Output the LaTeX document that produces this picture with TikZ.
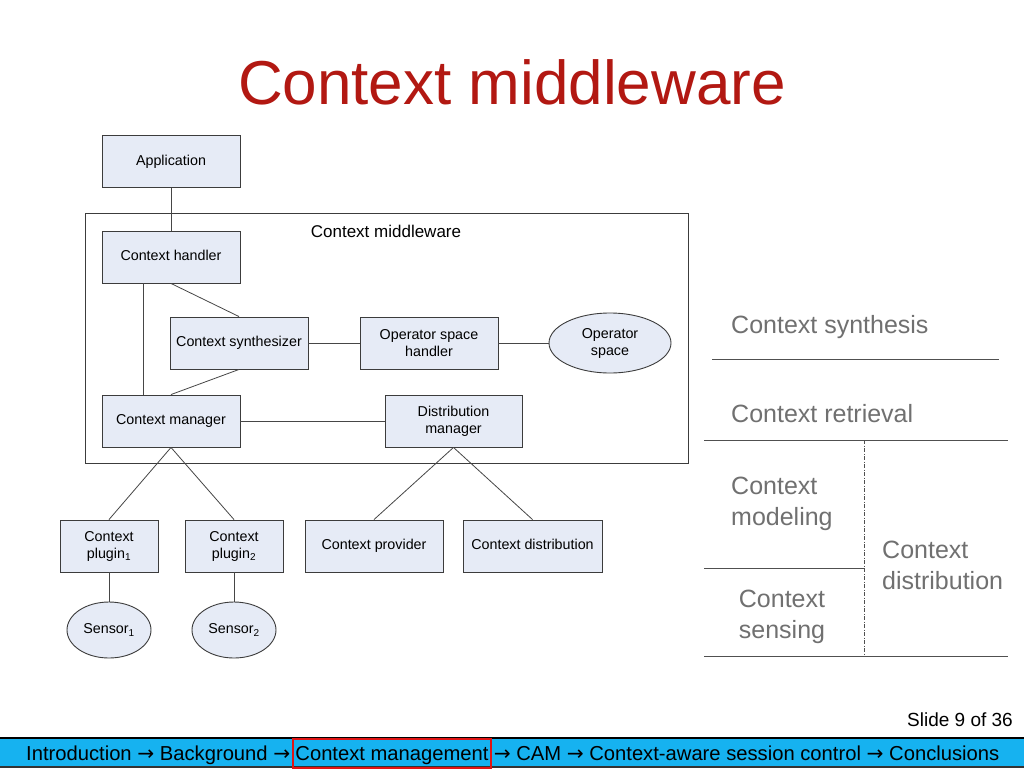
\documentclass[tikz,border=0pt]{standalone}
\usepackage{fontspec}
\setmainfont{Liberation Sans}
\newfontfamily\arrfont{DejaVu Sans}
\usetikzlibrary{shapes.geometric}
\definecolor{titlered}{RGB}{178,24,18}
\definecolor{boxfill}{RGB}{230,235,246}
\definecolor{boxline}{RGB}{60,60,60}
\definecolor{linecol}{RGB}{70,70,70}
\definecolor{graytext}{RGB}{112,112,112}
\definecolor{grayline}{RGB}{80,80,80}
\definecolor{barblue}{RGB}{22,178,240}
\definecolor{markred}{RGB}{225,20,20}
\newcommand{\fs}[2]{\fontsize{#1}{#2}\selectfont}
\newcommand{\arr}{{\arrfont →}}
\begin{document}
\begin{tikzpicture}[x=1pt,y=-1pt,
  box/.style={draw=boxline, fill=boxfill, line width=0.9pt, minimum width=138pt, minimum height=52pt, inner sep=1pt, align=center, font=\fs{14.3}{17}},
  onel/.style={box, execute at begin node={\vphantom{Ag}}},
  smallbox/.style={box, minimum width=98pt},
  ell/.style={ellipse, draw=boxline, fill=boxfill, line width=0.9pt, inner sep=0pt, align=center, font=\fs{14.3}{17}},
  conn/.style={draw=linecol, line width=0.8pt},
  side/.style={text=graytext, font=\fs{25}{31}, inner sep=0pt, align=left},
  sideline/.style={draw=grayline, line width=1pt},
  foot/.style={font=\fs{20.2}{22}, inner sep=0pt, text=black}
]
\useasboundingbox (0,0) rectangle (1024,768);
\fill[white] (0,0) rectangle (1024,768);

% title
\node[text=titlered, font=\fs{62}{70}, inner sep=0pt] (title) at (512,82) {Context middleware};

% middleware frame
\node[draw=boxline, line width=0.9pt, minimum width=603pt, minimum height=250pt, inner sep=0pt] (mw) at (386.5,338) {};
\node[font=\fs{17}{20}, inner sep=0pt] (mwlabel) at (386,231) {Context middleware};

% boxes
\node[onel] (app) at (171,161.5) {Application};
\node[onel] (handler) at (171,257) {Context handler};
\node[onel] (synth) at (239,343) {Context synthesizer};
\node[box] (osh) at (429,343) {Operator space\\handler};
\node[ell, minimum width=122pt, minimum height=60pt] (ospace) at (610,343) {Operator\\space};
\node[onel] (manager) at (171,421) {Context manager};
\node[box, minimum width=137pt] (dist) at (453.5,421) {Distribution\\manager};
\node[smallbox] (plug1) at (109,546) {Context\\plugin\textsubscript{1}};
\node[smallbox] (plug2) at (234,546) {Context\\plugin\textsubscript{2}};
\node[onel] (provider) at (374,546) {Context provider};
\node[onel, minimum width=139pt] (cdist) at (532.5,546) {Context distribution};
\node[ell, minimum width=84pt, minimum height=56pt] (sens1) at (109,630) {Sensor\textsubscript{1}};
\node[ell, minimum width=84pt, minimum height=56pt] (sens2) at (234,630) {Sensor\textsubscript{2}};

% connectors
\draw[conn] (app.south) -- (handler.north);
\draw[conn] ([xshift=-28pt]handler.south) -- ([xshift=-28pt]manager.north);
\draw[conn] (handler.south) -- (synth.north);
\draw[conn] (synth.south) -- (manager.north);
\draw[conn] (synth.east) -- (osh.west);
\draw[conn] (osh.east) -- (ospace.west);
\draw[conn] (manager.east) -- (dist.west);
\draw[conn] (manager.south) -- (plug1.north);
\draw[conn] (manager.south) -- (plug2.north);
\draw[conn] (dist.south) -- (provider.north);
\draw[conn] (dist.south) -- (cdist.north);
\draw[conn] (plug1.south) -- (sens1.north);
\draw[conn] (plug2.south) -- (sens2.north);

% right panel
\node[side, anchor=west] (synthesis) at (731,327) {Context synthesis};
\node[side, anchor=west] (retrieval) at (731,414) {Context retrieval};
\node[side, anchor=west] (modeling) at (731,504) {Context\\modeling};
\node[side, align=center] (sensing) at (782,616.5) {Context\\sensing};
\node[side, anchor=west] (cdistr) at (882,565.5) {Context\\distribution};
\draw[sideline] (712,359) -- (999,359);
\draw[sideline] (704,440) -- (1008,440);
\draw[sideline] (704,568) -- (864,568);
\draw[sideline] (704,656) -- (1008,656);
\draw[draw=grayline, line width=1pt, dash pattern=on 4pt off 1.5pt on 1pt off 1.5pt] (864,440) -- (864,656);

% footer
\node[font=\fs{19}{21}, inner sep=0pt, anchor=east] (slide) at (1013,720) {Slide 9 of 36};
\fill[barblue] (0,738) rectangle (1024,768);
\draw[black, line width=1.5pt] (0,738) -- (1024,738);
\draw[black!80, line width=1.5pt] (0,767) -- (1024,767);
\node[foot, draw=markred, line width=2pt, minimum height=29pt, inner xsep=2pt, text height=14.5pt, text depth=0.5pt] (cm) at (392,753) {Context management};
\node[foot, anchor=base east] (left) at ([xshift=-2pt]cm.base west) {Introduction \arr{} Background \arr};
\node[foot, anchor=base west] (right) at ([xshift=2pt]cm.base east) {\arr{} CAM \arr{} Context-aware session control \arr{} Conclusions};
\end{tikzpicture}
\end{document}
